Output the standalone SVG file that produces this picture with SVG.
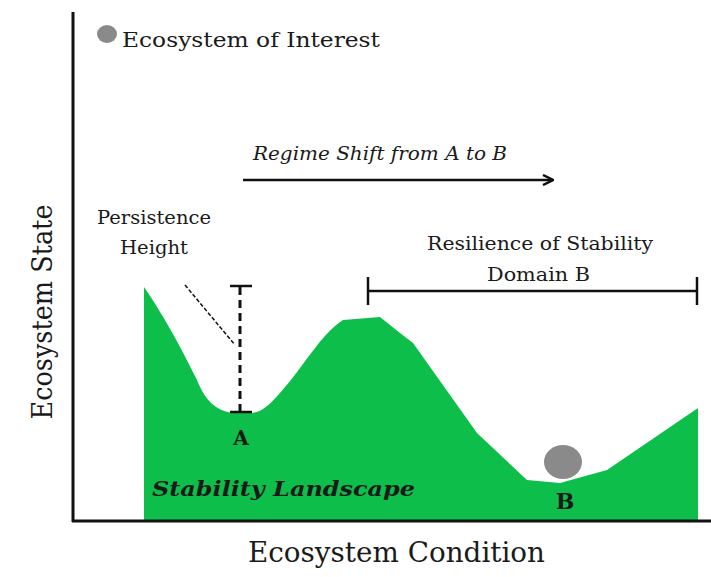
<svg xmlns="http://www.w3.org/2000/svg" width="711" height="577" viewBox="0 0 711 577">
<defs>
<style>
.t{font-family:"DejaVu Serif","Liberation Serif",serif;fill:#1a1a1a}
.ax{stroke:#111;stroke-width:3;fill:none}
.ln{stroke:#111;stroke-width:2.5;fill:none}
.ball{fill:#8a8a8a}
</style>
<marker id="ah" markerWidth="12" markerHeight="12" refX="10" refY="6" orient="auto" markerUnits="userSpaceOnUse"><path d="M1,1 L11,6 L1,11" fill="none" stroke="#111" stroke-width="2.5"/></marker>
</defs>
<rect width="711" height="577" fill="#fff"/>
<g id="landscape">
<path d="M144,287 L144,521 L698,521 L698,408 L607,470 L560,483 L527,480 L477,433 L413,343 L400,333 L380,317 L343,320 C320,335 305,365 280,393 C265,410 258,413 250,413 L232,413 C215,410 205,400 197,380 C180,345 160,310 144,287 Z" fill="#0dbf4a"/>
</g>
<g id="axes">
<line class="ax" x1="73" y1="12" x2="73" y2="522"/>
<line class="ax" x1="72" y1="521" x2="711" y2="521"/>
<text class="t" x="248" y="562" font-size="27" textLength="297" lengthAdjust="spacingAndGlyphs">Ecosystem Condition</text>
<text class="t" font-size="27" text-anchor="middle" textLength="215" lengthAdjust="spacingAndGlyphs" transform="translate(52,312) rotate(-90)">Ecosystem State</text>
</g>
<g id="legend">
<ellipse class="ball" cx="107" cy="34" rx="10" ry="9"/>
<text class="t" x="122" y="47" font-size="21" textLength="258" lengthAdjust="spacingAndGlyphs">Ecosystem of Interest</text>
</g>
<g id="connectors">
<line class="ln" x1="243" y1="180" x2="552" y2="180" marker-end="url(#ah)"/>
<line x1="240" y1="287" x2="240" y2="412" stroke="#111" stroke-width="3" stroke-dasharray="8,5"/>
<line class="ln" x1="230" y1="286" x2="252" y2="286"/>
<line class="ln" x1="230" y1="412" x2="252" y2="412"/>
<line x1="185" y1="285" x2="235" y2="345" stroke="#111" stroke-width="1.5" stroke-dasharray="4,2"/>
<line class="ln" x1="368" y1="291" x2="697" y2="291"/>
<line class="ln" x1="368" y1="277" x2="368" y2="305"/>
<line class="ln" x1="697" y1="277" x2="697" y2="305"/>
</g>
<g id="regime">
<text class="t" x="253" y="160" font-size="19" font-style="italic" textLength="254" lengthAdjust="spacingAndGlyphs">Regime Shift from A to B</text>
</g>
<g id="persistence">
<text class="t" x="97" y="224" font-size="19" textLength="114" lengthAdjust="spacingAndGlyphs">Persistence</text>
<text class="t" x="120" y="254" font-size="19" textLength="68" lengthAdjust="spacingAndGlyphs">Height</text>
</g>
<g id="resilience">
<text class="t" x="427" y="250" font-size="19" textLength="226" lengthAdjust="spacingAndGlyphs">Resilience of Stability</text>
<text class="t" x="487" y="281" font-size="19" textLength="103" lengthAdjust="spacingAndGlyphs">Domain B</text>
</g>
<g id="stateA">
<text class="t" x="241" y="445" font-size="20" font-weight="bold" text-anchor="middle">A</text>
</g>
<g id="stateB">
<ellipse class="ball" cx="563" cy="462" rx="19" ry="17"/>
<text class="t" x="565" y="509" font-size="22" font-weight="bold" text-anchor="middle">B</text>
</g>
<g id="label">
<text class="t" x="152" y="496" font-size="21" font-weight="bold" font-style="italic" fill="#0a2a10" textLength="263" lengthAdjust="spacingAndGlyphs">Stability Landscape</text>
</g>
</svg>
